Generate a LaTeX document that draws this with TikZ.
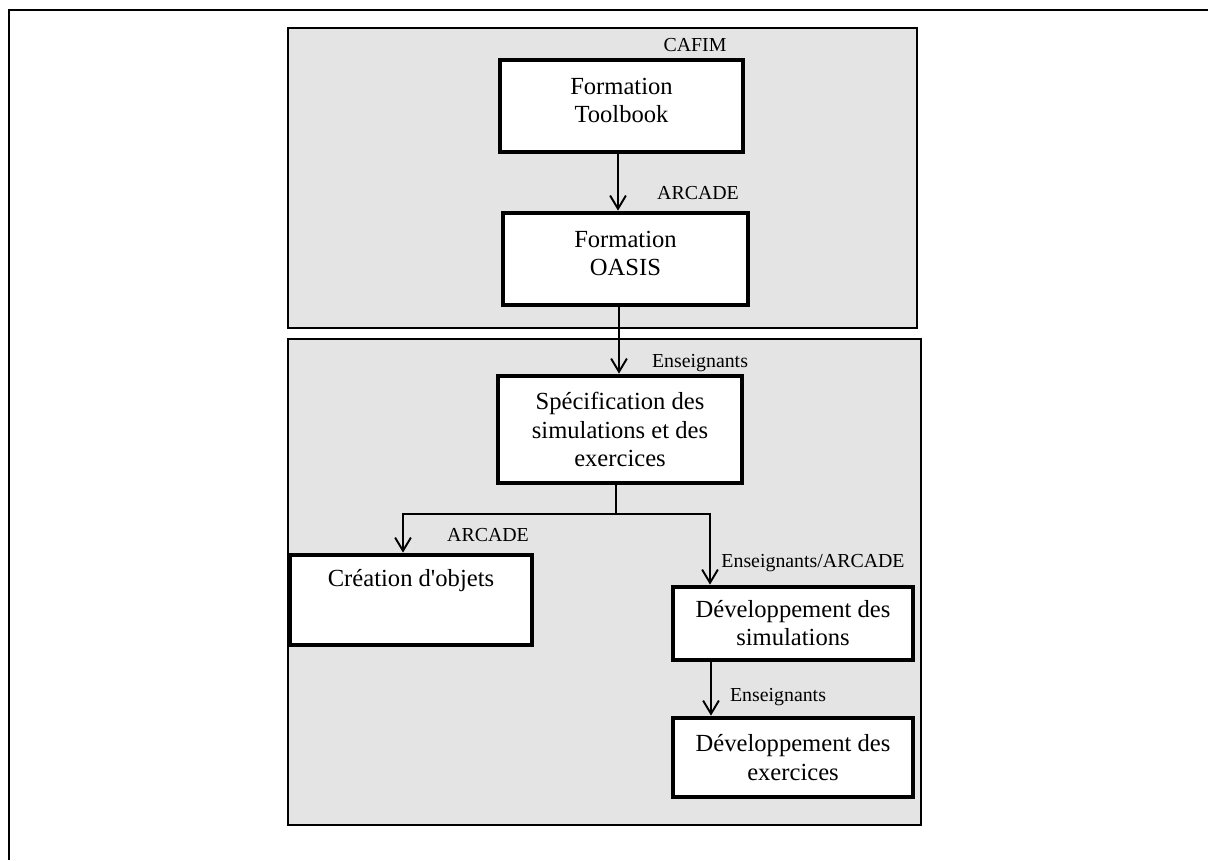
\documentclass[tikz,border=0pt]{standalone}
\usepackage{fontspec}
\setmainfont{Liberation Serif}
\usetikzlibrary{arrows.meta}
\definecolor{fondgris}{RGB}{228,228,228}
\tikzset{
  etape/.style={draw=black, line width=2.7pt, fill=white, align=center, inner sep=2pt,
    font=\fontsize{14}{16}\selectfont},
  acteur/.style={font=\fontsize{11.3}{13}\selectfont, inner sep=0pt},
  fleche/.style={-{Straight Barb[length=7.5pt, width=9pt]}, line width=1.1pt},
  panneau/.style={draw=black, line width=1.3pt, fill=fondgris}
}
\begin{document}
\begin{tikzpicture}[x=0.02cm, y=-0.02cm]
            \useasboundingbox (0,0) rectangle (1208,860);

            % Cadre extérieur
            \draw[line width=1.4pt] (8,10) -- (1208,10);
            \draw[line width=1.4pt] (9,10) -- (9,860);

            % Panneaux gris
            \draw[panneau] (288,28) rectangle (917,328);
            \draw[panneau] (288,339) rectangle (921,825);

            % Étapes
            \node[etape, minimum width=4.86cm, minimum height=1.84cm] (Toolbook) at (621.5,106) {Formation\\Toolbook\\[-10pt]~};
            \node[etape, minimum width=4.9cm, minimum height=1.84cm] (OASIS) at (625.5,259) {Formation\\OASIS\\[-10pt]~};
            \node[etape, minimum width=4.88cm, minimum height=2.14cm] (Spec) at (620,429.5) {Spécification des\\simulations et des\\exercices};
            \node[etape, minimum width=4.84cm, minimum height=1.8cm] (Creation) at (411,600) {Création d\textquotesingle objets\\[-7pt]~\\~};
            \node[etape, minimum width=4.8cm, minimum height=1.46cm] (DevSim) at (793,623.5) {Développement des\\simulations};
            \node[etape, minimum width=4.8cm, minimum height=1.58cm] (DevEx) at (793,757.5) {Développement des\\exercices};

            % Acteurs
            \node[acteur] (lCAFIM) at (695,45) {CAFIM};
            \node[acteur] (lArcadeA) at (698,193) {ARCADE};
            \node[acteur] (lEnsA) at (700,363) {Enseignants};
            \node[acteur] (lArcadeB) at (488,535) {ARCADE};
            \node[acteur] (lEnsArc) at (813,563) {Enseignants/ARCADE};
            \node[acteur] (lEnsB) at (778,697) {Enseignants};

            % Liaisons
            \coordinate (branche) at (616,514);
            \draw[fleche] (618,0 |- Toolbook.south) -- (618,0 |- OASIS.north);
            \draw[fleche] (619,0 |- OASIS.south) -- (619,0 |- Spec.north);
            \draw[line width=1.1pt] (616,0 |- Spec.south) -- (branche);
            \draw[fleche] (branche) -| (403,0 |- Creation.north);
            \draw[fleche] (branche) -| (710,0 |- DevSim.north);
            \draw[fleche] (711,0 |- DevSim.south) -- (711,0 |- DevEx.north);
\end{tikzpicture}
\end{document}
